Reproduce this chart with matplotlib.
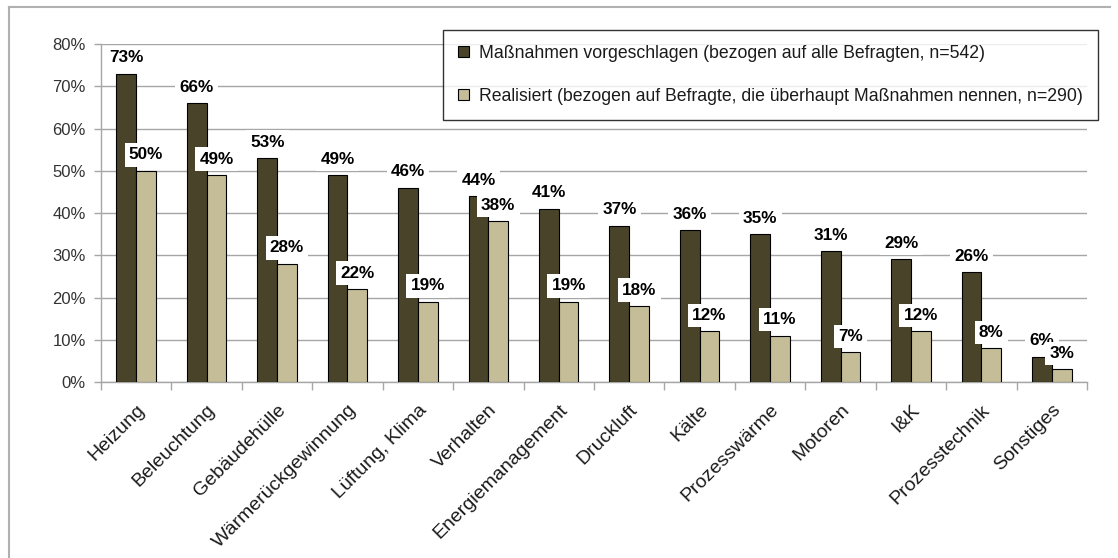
import matplotlib.pyplot as plt
import numpy as np
from matplotlib.lines import Line2D
from matplotlib.ticker import FixedLocator

plt.rcParams["font.family"] = ["Liberation Sans", "DejaVu Sans"]

categories = ["Heizung", "Beleuchtung", "Gebäudehülle", "Wärmerückgewinnung",
              "Lüftung, Klima", "Verhalten", "Energiemanagement", "Druckluft",
              "Kälte", "Prozesswärme", "Motoren", "I&K", "Prozesstechnik", "Sonstiges"]
vorgeschlagen = [73, 66, 53, 49, 46, 44, 41, 37, 36, 35, 31, 29, 26, 6]
realisiert = [50, 49, 28, 22, 19, 38, 19, 18, 12, 11, 7, 12, 8, 3]
series_labels = ["Maßnahmen vorgeschlagen (bezogen auf alle Befragten, n=542)",
                 "Realisiert (bezogen auf Befragte, die überhaupt Maßnahmen nennen, n=290)"]

dark = "#494429"
light = "#c4bd97"
grid_grey = "#a6a6a6"

fig = plt.figure(figsize=(11.18, 5.58), dpi=100)
ax = fig.add_axes([0.0903, 0.3154, 0.8820, 0.6057])

x = np.arange(len(categories))
w = 0.28
b1 = ax.bar(x - w / 2, vorgeschlagen, w, color=dark, edgecolor="black", linewidth=0.8,
            zorder=3, label=series_labels[0])
b2 = ax.bar(x + w / 2, realisiert, w, color=light, edgecolor="black", linewidth=0.8,
            zorder=3, label=series_labels[1])

# data labels with white boxes, light-bar labels drawn on top
for bars, vals, z in [(b1, vorgeschlagen, 5), (b2, realisiert, 6)]:
    for rect, v in zip(bars, vals):
        ax.annotate(f"{v}%", (rect.get_x() + rect.get_width() / 2, v),
                    xytext=(0, 6), textcoords="offset points",
                    ha="center", va="bottom", fontsize=12.3, fontweight="bold",
                    bbox=dict(boxstyle="square,pad=0.25", fc="white", ec="none"),
                    zorder=z)

ax.set_xlim(-0.5, len(categories) - 0.5)
ax.set_ylim(0, 80)
ax.set_yticks(range(0, 81, 10))
ax.set_yticklabels([f"{t}%" for t in range(0, 81, 10)], fontsize=12, color="#333333")
ax.yaxis.grid(True, color=grid_grey, linewidth=1, zorder=0)
ax.set_axisbelow(True)

ax.set_xticks(x)
ax.set_xticklabels(categories, rotation=45, ha="right", rotation_mode="anchor",
                   fontsize=14, color="#1a1a1a")
ax.tick_params(axis="x", which="major", length=0, pad=14)
ax.xaxis.set_minor_locator(FixedLocator(np.arange(-0.5, len(categories), 1)))
ax.tick_params(axis="x", which="minor", length=6, color=grid_grey, width=1)
ax.tick_params(axis="y", length=5, color=grid_grey, width=1, pad=6)

for side in ["top", "right"]:
    ax.spines[side].set_visible(False)
for side in ["left", "bottom"]:
    ax.spines[side].set_color(grid_grey)
    ax.spines[side].set_linewidth(1)

leg = fig.legend(loc="upper left", bbox_to_anchor=(443 / 1118, 1 - 30 / 558),
                 fontsize=12.7, frameon=True, fancybox=False, edgecolor="black",
                 handlelength=0.6, handleheight=0.6, handletextpad=0.6,
                 labelspacing=1.45, borderpad=0.85, borderaxespad=0)
leg.get_frame().set_linewidth(1)
for t in leg.get_texts():
    t.set_color("#1a1a1a")

# outer chart border (top and left edges visible)
fig.add_artist(Line2D([9 / 1118, 1110 / 1118], [1 - 7 / 558, 1 - 7 / 558],
                      color="#b0b0b0", linewidth=1.5, transform=fig.transFigure))
fig.add_artist(Line2D([9 / 1118, 9 / 1118], [1 - 7 / 558, 0],
                      color="#b0b0b0", linewidth=1.5, transform=fig.transFigure))

plt.savefig("out.png", dpi=100)
plt.close()
